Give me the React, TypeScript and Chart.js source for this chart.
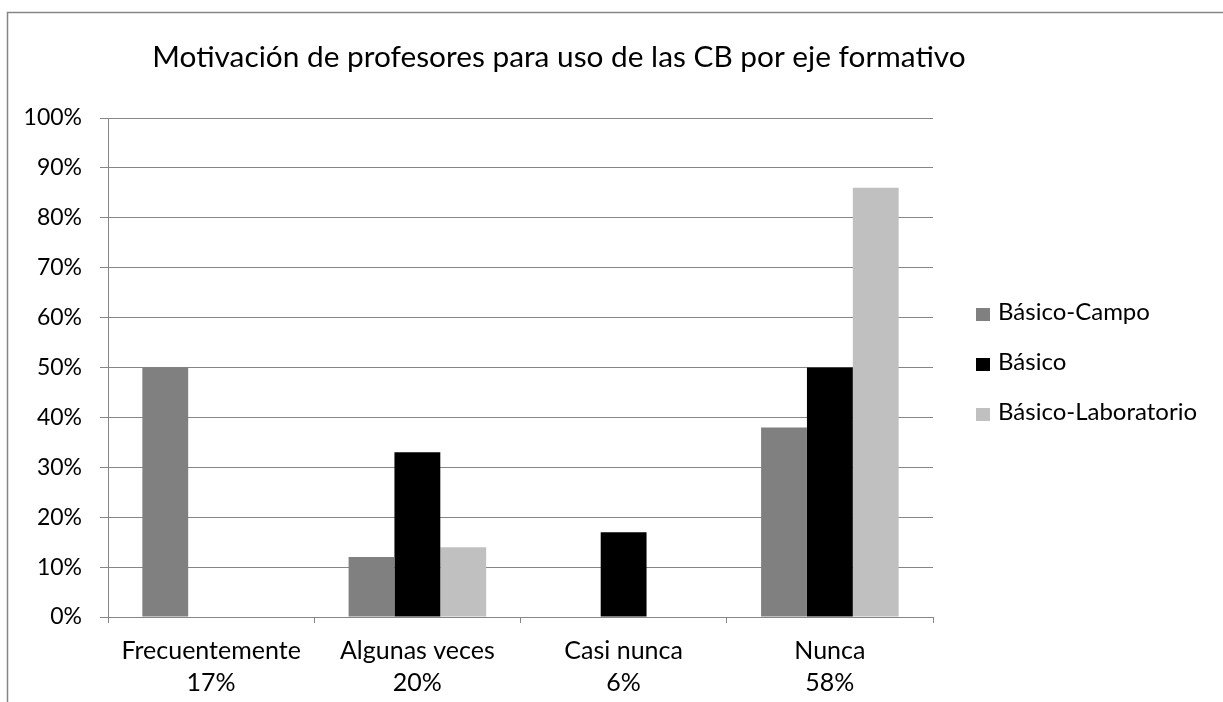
import React, { useEffect, useRef } from "react";
import { Chart, registerables } from "chart.js";

Chart.register(...registerables);

// ---- Data ----
const categories: string[][] = [
  ["Frecuentemente", "17%"],
  ["Algunas veces", "20%"],
  ["Casi nunca", "6%"],
  ["Nunca", "58%"],
];
const seriesNames = ["Básico-Campo", "Básico", "Básico-Laboratorio"];
const basicoCampo = [50, 12, 0, 38];
const basico = [0, 33, 17, 50];
const basicoLaboratorio = [0, 14, 0, 86];
const seriesColors = ["#808080", "#000000", "#C0C0C0"];
const yMin = 0;
const yMax = 100;
const yStep = 10;
const titleText = "Motivación de profesores para uso de las CB por eje formativo";

const FONT = "Lato, 'Open Sans', 'DejaVu Sans', sans-serif";
const GRID = "#868686";

const frameBorder = {
  id: "frameBorder",
  beforeDraw(chart: any) {
    const { ctx, width, height } = chart;
    ctx.save();
    ctx.fillStyle = "#ffffff";
    ctx.fillRect(0, 0, width, height);
    ctx.strokeStyle = GRID;
    ctx.lineWidth = 1.5;
    ctx.beginPath();
    ctx.moveTo(7.5, height);
    ctx.lineTo(7.5, 12.5);
    ctx.lineTo(width, 12.5);
    ctx.stroke();
    ctx.restore();
  },
};

// Title centred on the (wider) chart frame, Excel-style.
const frameTitle = {
  id: "frameTitle",
  afterDraw(chart: any) {
    const { ctx } = chart;
    ctx.save();
    ctx.fillStyle = "#000000";
    ctx.font = `normal 29.8px ${FONT}`;
    ctx.textAlign = "center";
    ctx.textBaseline = "alphabetic";
    ctx.fillText(titleText, 559, 67);
    ctx.restore();
  },
};

// Legend placed to the right of the plot area, built from the datasets.
const sideLegend = {
  id: "sideLegend",
  afterDraw(chart: any) {
    const { ctx, chartArea } = chart;
    const x0 = chartArea.right + 43;
    ctx.save();
    ctx.font = `normal 24px ${FONT}`;
    ctx.textAlign = "left";
    ctx.textBaseline = "alphabetic";
    chart.data.datasets.forEach((ds: any, i: number) => {
      const base = 320 + i * 50;
      ctx.fillStyle = ds.backgroundColor;
      ctx.fillRect(x0, base - 12, 14, 13);
      ctx.fillStyle = "#000000";
      ctx.fillText(ds.label, x0 + 22, base);
    });
    ctx.restore();
  },
};

export default function App() {
  const canvasRef = useRef<HTMLCanvasElement | null>(null);

  useEffect(() => {
    if (!canvasRef.current) return;
    Chart.defaults.font.family = FONT;
    const seriesValues = [basicoCampo, basico, basicoLaboratorio];
    const chart = new Chart(canvasRef.current, {
      type: "bar",
      data: {
        labels: categories,
        datasets: seriesNames.map((name, i) => ({
          label: name,
          data: seriesValues[i],
          backgroundColor: seriesColors[i],
          borderWidth: 0,
          categoryPercentage: 0.667,
          barPercentage: 1.0,
        })),
      },
      options: {
        responsive: false,
        animation: false,
        devicePixelRatio: 1,
        layout: { padding: { left: 0, right: 290, top: 118, bottom: 0 } },
        plugins: {
          title: { display: false },
          legend: { display: false },
          tooltip: { enabled: false },
        },
        scales: {
          x: {
            grid: {
              display: true,
              drawOnChartArea: false,
              drawTicks: true,
              tickLength: 6,
              color: GRID,
              offset: true,
            },
            border: { display: true, color: GRID, width: 1 },
            ticks: {
              color: "#000000",
              padding: 12,
              maxRotation: 0,
              autoSkip: false,
              font: { family: FONT, size: 25, lineHeight: "32px" },
            },
            afterFit: (s: any) => {
              s.height = 85;
            },
          },
          y: {
            min: yMin,
            max: yMax,
            ticks: {
              stepSize: yStep,
              color: "#000000",
              padding: 18,
              font: { family: FONT, size: 23 },
              callback: (v: any) => `${v}%`,
            },
            grid: { color: GRID, tickLength: 8, lineWidth: 1 },
            border: { display: true, color: GRID, width: 1 },
            afterFit: (s: any) => {
              s.width = 108;
            },
          },
        },
      },
      plugins: [frameBorder, frameTitle, sideLegend],
    });
    return () => chart.destroy();
  }, []);

  return (
    <div
      style={{
        position: "fixed",
        left: 0,
        top: 0,
        width: 1223,
        height: 702,
        background: "#ffffff",
      }}
    >
      <canvas
        ref={canvasRef}
        width={1223}
        height={702}
        style={{ display: "block", width: 1223, height: 702 }}
      />
    </div>
  );
}
